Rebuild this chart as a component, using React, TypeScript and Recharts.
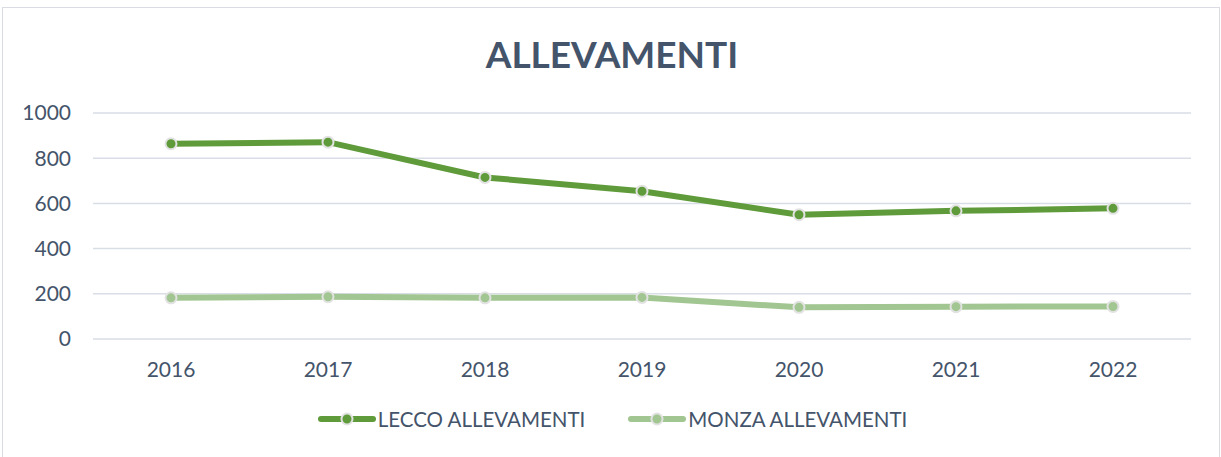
import React from 'react';
import {
  LineChart,
  Line,
  XAxis,
  YAxis,
  CartesianGrid,
  Legend,
} from 'recharts';

const years = ['2016', '2017', '2018', '2019', '2020', '2021', '2022'];
const leccoValues = [864, 871, 715, 654, 550, 567, 578];
const monzaValues = [182, 187, 182, 184, 140, 143, 144];
const yTicks = [0, 200, 400, 600, 800, 1000];
const boundaryTicks = [0, 1, 2, 3, 4, 5, 6, 7];

const seriesNames = ['LECCO ALLEVAMENTI', 'MONZA ALLEVAMENTI'];
const seriesColors = ['#5f9b3a', '#a2c691'];

const data = years.map((y, i) => ({
  year: y,
  lecco: leccoValues[i],
  monza: monzaValues[i],
}));

const TEXT = '#44546a';
const FONT = 'Lato, "Open Sans", sans-serif';
const GRID = '#d9dee6';
const RING = '#e2e2e2';

const Nothing = () => <g />;

const LegendContent = (props: any) => {
  const payload = props.payload || [];
  return (
    <div
      style={{
        display: 'flex',
        justifyContent: 'center',
        alignItems: 'center',
        gap: 43,
        fontFamily: FONT,
        fontSize: 20.5,
        color: TEXT,
        paddingLeft: 4,
      }}
    >
      {payload.map((p: any) => (
        <div key={p.value} style={{ display: 'flex', alignItems: 'center' }}>
          <svg width={58} height={16} style={{ marginRight: 2 }}>
            <line x1={3} y1={8} x2={55} y2={8} stroke={p.color} strokeWidth={6} strokeLinecap="round" />
            <circle cx={29} cy={8} r={5.5} fill={p.color} stroke={RING} strokeWidth={2} />
          </svg>
          <span style={{ lineHeight: '20px' }}>{p.value}</span>
        </div>
      ))}
    </div>
  );
};

export default function App() {
  return (
    <div style={{ position: 'absolute', left: 0, top: 0, width: 1221, height: 457, background: '#fff', overflow: 'hidden' }}>
      <div
        style={{
          position: 'absolute',
          left: 2,
          top: 7,
          width: 1216,
          height: 470,
          border: '1px solid #d9dde3',
        }}
      />
      <div
        style={{
          position: 'absolute',
          left: 0,
          top: 35,
          width: 1224,
          textAlign: 'center',
          fontFamily: FONT,
          fontWeight: 700,
          fontSize: 37,
          lineHeight: 1,
          color: TEXT,
        }}
      >
        ALLEVAMENTI
      </div>
      <div style={{ position: 'absolute', left: 0, top: 0 }}>
        <LineChart
          width={1221}
          height={457}
          data={data}
          margin={{ top: 113, right: 30, bottom: 78, left: 0 }}
        >
          <CartesianGrid horizontal vertical={false} stroke={GRID} strokeWidth={1.5} />
          <XAxis
            xAxisId="grid"
            type="number"
            domain={[0, 7]}
            ticks={boundaryTicks}
            allowDataOverflow
            height={0}
            tick={Nothing}
            tickSize={7}
            tickLine={{ stroke: GRID, strokeWidth: 1.5 }}
            axisLine={{ stroke: GRID, strokeWidth: 1.5 }}
          />
          <XAxis
            dataKey="year"
            height={40}
            padding={{ left: 78, right: 78 }}
            axisLine={false}
            tickLine={false}
            tickSize={0}
            tickMargin={23}
            tick={{ fill: TEXT, fontSize: 21, fontFamily: FONT }}
            interval={0}
          />
          <YAxis
            domain={[0, 1000]}
            ticks={yTicks}
            width={93}
            axisLine={false}
            tickLine={false}
            tickSize={0}
            tickMargin={22}
            tick={{ fill: TEXT, fontSize: 21, fontFamily: FONT }}
          />
          <Legend
            verticalAlign="middle"
            align="center"
            layout="horizontal"
            wrapperStyle={{ top: 409, left: 0, width: 1221 }}
            content={LegendContent}
          />
          <Line
            type="linear"
            dataKey="lecco"
            name={seriesNames[0]}
            stroke={seriesColors[0]}
            strokeWidth={6}
            dot={{ r: 5.5, fill: seriesColors[0], stroke: RING, strokeWidth: 2 }}
            activeDot={false}
            isAnimationActive={false}
          />
          <Line
            type="linear"
            dataKey="monza"
            name={seriesNames[1]}
            stroke={seriesColors[1]}
            strokeWidth={6}
            dot={{ r: 5.5, fill: seriesColors[1], stroke: RING, strokeWidth: 2 }}
            activeDot={false}
            isAnimationActive={false}
          />
        </LineChart>
      </div>
    </div>
  );
}
